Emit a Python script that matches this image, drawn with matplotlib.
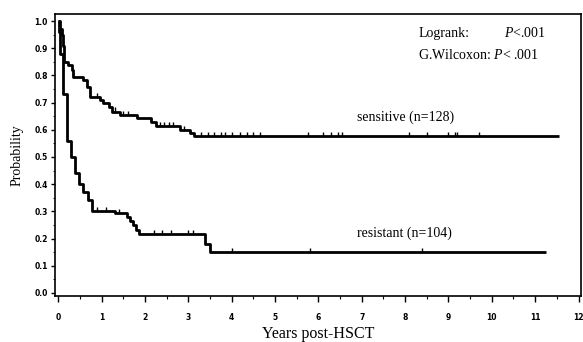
import matplotlib
matplotlib.use("Agg")
import matplotlib.pyplot as plt
import numpy as np

plt.rcParams["mathtext.fontset"] = "custom"
plt.rcParams["mathtext.rm"] = "Liberation Serif"
plt.rcParams["mathtext.it"] = "Liberation Serif:italic"

# ---- data ----
sens_times = [0.0, 0.04, 0.08, 0.10, 0.14, 0.23, 0.31, 0.35, 0.58, 0.67, 0.74, 0.97,
              1.04, 1.16, 1.24, 1.43, 1.81, 2.15, 2.25, 2.80, 3.05, 3.12, 11.55]
sens_surv = [1.0, 0.97, 0.95, 0.91, 0.85, 0.84, 0.82, 0.795, 0.785, 0.757, 0.72, 0.71,
             0.697, 0.683, 0.667, 0.654, 0.642, 0.63, 0.614, 0.60, 0.59, 0.578, 0.578]
sens_censor = [0.9, 1.3, 1.5, 1.6, 2.35, 2.45, 2.55, 2.65, 2.9, 3.3, 3.45, 3.6, 3.75,
               3.85, 4.0, 4.2, 4.35, 4.5, 4.65, 5.75, 6.1, 6.3, 6.45, 6.55, 8.1,
               8.5, 9.0, 9.15, 9.2, 9.7]

res_times = [0.0, 0.02, 0.04, 0.12, 0.20, 0.30, 0.39, 0.47, 0.58, 0.69, 0.78, 1.30,
             1.58, 1.66, 1.73, 1.80, 1.86, 3.39, 3.50, 11.24]
res_surv = [1.0, 0.96, 0.88, 0.73, 0.56, 0.50, 0.44, 0.40, 0.37, 0.34, 0.30, 0.295,
            0.28, 0.265, 0.25, 0.23, 0.215, 0.18, 0.15, 0.15]
res_censor = [0.9, 1.1, 1.4, 2.2, 2.4, 2.6, 3.0, 3.1, 4.0, 5.8, 8.4]

labels = ["sensitive (n=128)", "resistant (n=104)"]
yticks = [0.0, 0.1, 0.2, 0.3, 0.4, 0.5, 0.6, 0.7, 0.8, 0.9, 1.0]
xticks = list(range(0, 13))

serif = ["Liberation Serif", "DejaVu Serif"]

fig = plt.figure(figsize=(5.83, 3.42), dpi=100)
ax = fig.add_axes([0.094, 0.134, 0.902, 0.825])

def surv_at(times, surv, t):
    idx = np.searchsorted(times, t, side="right") - 1
    return surv[idx]

for times, surv, cens in [(sens_times, sens_surv, sens_censor),
                          (res_times, res_surv, res_censor)]:
    ax.step(times, surv, where="post", color="black", lw=2.0, solid_capstyle="butt")
    cy = [surv_at(times, surv, c) + 0.008 for c in cens]
    ax.plot(cens, cy, linestyle="none", marker="|", color="black", ms=3.5, mew=1.0)

ax.set_xlim(-0.08, 12.05)
ax.set_ylim(-0.012, 1.026)
ax.set_xticks(xticks)
ax.set_xticklabels([str(x) for x in xticks])
ax.set_xticks(np.arange(0.5, 12, 1.0), minor=True)
ax.set_yticks(yticks)
ax.set_yticklabels([f"{y:.1f}" for y in yticks])
ax.set_yticks(np.arange(0.05, 1.0, 0.1), minor=True)

for lab in ax.get_xticklabels() + ax.get_yticklabels():
    lab.set_fontfamily("DejaVu Sans")
    lab.set_fontweight("bold")
    lab.set_fontsize(5.5)

ax.tick_params(axis="x", which="major", length=4, width=1.0, pad=8)
ax.tick_params(axis="x", which="minor", length=2.5, width=0.8)
ax.tick_params(axis="y", which="major", length=3, width=1.0, pad=2)
ax.tick_params(axis="y", which="minor", length=1.5, width=0.6)

for sp in ax.spines.values():
    sp.set_linewidth(1.2)
    sp.set_color("black")

ax.set_ylabel("Probability", fontfamily=serif, fontsize=10, labelpad=8)
ax.set_xlabel("Years post-HSCT", fontfamily=serif, fontsize=11.5, labelpad=3)

ax.text(6.9, 0.647, labels[0], fontfamily=serif, fontsize=10, va="center", ha="left")
ax.text(6.9, 0.22, labels[1], fontfamily=serif, fontsize=10, va="center", ha="left")

ax.text(8.3, 0.955, "Logrank:", fontfamily=serif, fontsize=10, va="center", ha="left")
ax.text(11.26, 0.955, r"$P$<.001", fontfamily=serif, fontsize=10, va="center", ha="right")
ax.text(8.3, 0.875, r"G.Wilcoxon: $P$< .001", fontfamily=serif, fontsize=10,
        va="center", ha="left")

fig.savefig("out.png", dpi=100)
